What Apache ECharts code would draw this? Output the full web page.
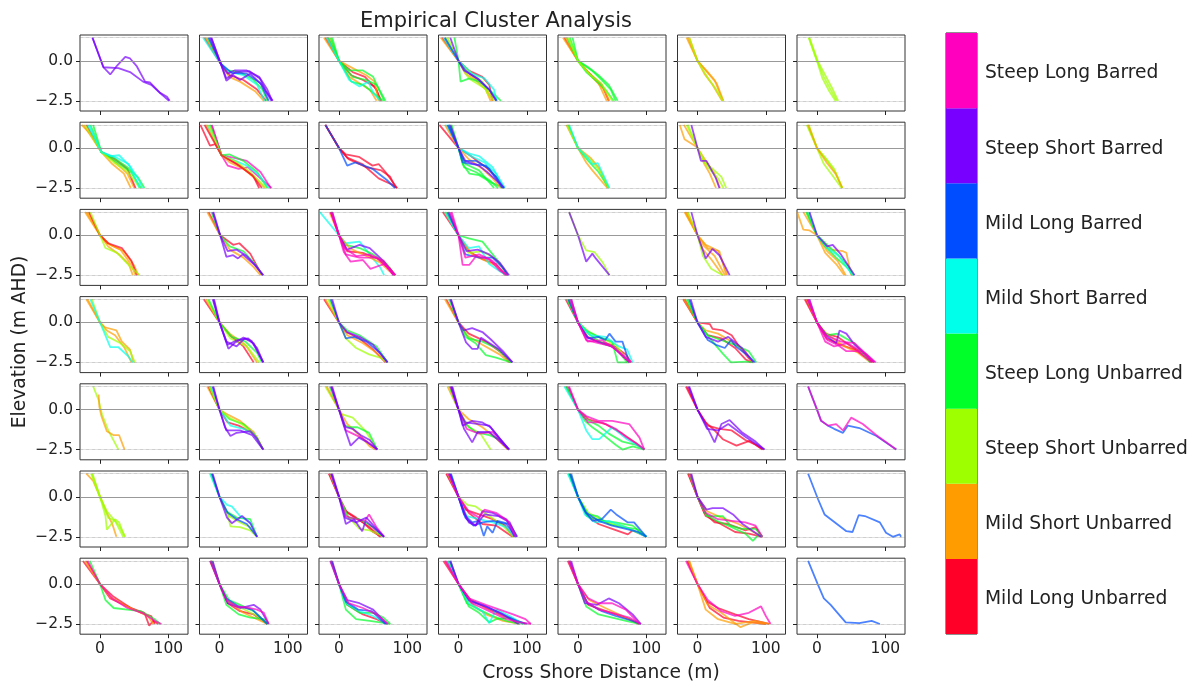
<!DOCTYPE html>
<html>
<head>
<meta charset="utf-8">
<script src="https://cdn.jsdelivr.net/npm/echarts@6/dist/echarts.min.js"></script>
<style>
  html, body { margin: 0; padding: 0; background: #fff; }
  #chart { width: 1198px; height: 686px; }
</style>
</head>
<body>
<div id="chart"></div>
<script>
  // cluster names, bottom of the colour bar first
  const categories = ['Mild Long Unbarred', 'Mild Short Unbarred', 'Steep Short Unbarred', 'Steep Long Unbarred',
    'Mild Short Barred', 'Mild Long Barred', 'Steep Short Barred', 'Steep Long Barred'];
  const clusterColors = ['#ff0029', '#ff9c00', '#9eff00', '#00ff28', '#00ffeb', '#004dff', '#7800ff', '#ff00bf'];
  const xTicks = [0, 100];
  const yTicks = [0, -2.5];
  const yTickLabels = ['0.0', '\u22122.5'];
  const refLevels = [1.45, 0, -2.5];
  const colorbarSpan = [1, 1, 1, 1, 1, 1, 1, 1];

  // each profile: [cluster index, [[cross shore distance, elevation], ...]]
  const r1c1 = [
    [6, [[-11,1.45],[5,-0.4],[15,-0.85],[24,-0.35],[37,0.25],[44,0.15],[54,-0.35],[66,-1.3],[73,-1.35],[88,-2.0],[98,-2.25],[102,-2.5]]],
    [6, [[-11,1.45],[5,-0.4],[27,-0.45],[44,-0.7],[63,-1.3],[75,-1.5],[90,-2.1],[101,-2.5]]]
  ];
  const r1c2 = [
    [0, [[-22,1.45],[2,-0.2],[15,-0.9],[35,-1.2],[55,-1.8],[68,-2.5]]],
    [1, [[-20,1.45],[2,-0.2],[14,-1.0],[30,-1.3],[52,-1.9],[65,-2.5]]],
    [3, [[-18,1.45],[3,-0.2],[12,-0.6],[30,-0.7],[50,-1.2],[63,-1.8],[70,-2.5]]],
    [4, [[-24,1.45],[2,-0.2],[15,-0.7],[35,-0.9],[55,-1.5],[66,-2.5]]],
    [5, [[-16,1.45],[2,-0.2],[18,-0.75],[40,-0.8],[60,-1.4],[72,-2.5]]],
    [6, [[-12,1.45],[2,-0.2],[10,-1.1],[17,-0.9],[24,-0.7],[44,-0.65],[59,-1.1],[68,-1.9],[78,-2.5]]],
    [6, [[-14,1.45],[2,-0.2],[12,-0.8],[22,-0.6],[40,-0.6],[58,-1.0],[70,-1.8],[77,-2.5]]],
    [6, [[-12,1.45],[3,-0.3],[10,-1.25],[20,-0.9],[30,-1.2],[45,-0.8],[62,-1.5],[76,-2.5]]]
  ];
  const r1c3 = [
    [0, [[-20,1.45],[0,0],[18,-0.9],[35,-1.2],[52,-1.6],[62,-2.5]]],
    [0, [[-17,1.45],[0,0],[20,-0.7],[38,-1.0],[55,-1.8],[60,-2.5]]],
    [1, [[-22,1.45],[0,0],[15,-1.0],[30,-1.4],[45,-1.8],[55,-2.5]]],
    [1, [[-14,1.45],[0,0],[22,-0.5],[40,-0.9],[52,-1.3],[58,-2.5]]],
    [3, [[-12,1.45],[0,0],[15,-0.6],[35,-0.6],[50,-1.0],[66,-2.5]]],
    [3, [[-16,1.45],[0,0],[20,-1.0],[40,-1.2],[55,-1.5],[68,-2.5]]],
    [3, [[-10,1.45],[0,0],[18,-1.3],[35,-1.5],[50,-2.0],[64,-2.5]]],
    [4, [[-18,1.45],[0,0],[15,-1.2],[30,-1.6],[43,-1.3],[50,-2.0],[60,-2.5]]]
  ];
  const r1c4 = [
    [0, [[-24,1.45],[0,0],[15,-0.6],[35,-1.0],[45,-1.5],[50,-2.5]]],
    [1, [[-26,1.45],[0,0],[10,-0.8],[25,-1.2],[40,-1.8],[47,-2.5]]],
    [1, [[-20,1.45],[0,0],[18,-0.9],[38,-1.5],[50,-2.5]]],
    [2, [[-18,1.45],[0,0],[15,-1.1],[30,-1.5],[45,-1.9],[55,-2.5]]],
    [2, [[-16,1.45],[0,0],[20,-0.8],[35,-1.3],[42,-2.0],[52,-2.5]]],
    [3, [[-6,1.45],[0,0],[3,-1.3],[16,-1.1],[30,-1.3],[45,-1.8],[62,-2.5]]],
    [4, [[-22,1.45],[0,0],[20,-0.8],[38,-1.1],[52,-1.8],[56,-2.5]]],
    [5, [[-20,1.45],[0,0],[10,-0.6],[30,-1.2],[45,-1.8],[56,-2.5]]],
    [6, [[-12,1.45],[0,0],[8,-0.6],[28,-1.1],[45,-1.8],[55,-2.5]]]
  ];
  const r1c5 = [
    [0, [[-20,1.45],[0,0],[15,-0.7],[35,-1.5],[45,-2.5]]],
    [1, [[-22,1.45],[0,0],[12,-0.6],[30,-1.4],[42,-2.5]]],
    [1, [[-18,1.45],[0,0],[18,-0.9],[38,-1.8],[46,-2.5]]],
    [3, [[-12,1.45],[0,0],[15,-0.4],[30,-0.9],[45,-1.5],[58,-2.5]]],
    [3, [[-8,1.45],[0,0],[20,-0.6],[35,-1.2],[48,-1.8],[55,-2.5]]],
    [3, [[-16,1.45],[0,0],[12,-0.7],[28,-1.3],[40,-1.8],[52,-2.5]]],
    [2, [[-14,1.45],[0,0],[16,-0.8],[34,-1.4],[50,-2.5]]]
  ];
  const r1c6 = [
    [1, [[-16,1.45],[0,0],[15,-0.7],[25,-1.2],[37,-2.5]]],
    [1, [[-14,1.45],[0,0],[10,-0.8],[22,-1.5],[36,-2.5]]],
    [1, [[-12,1.45],[0,0],[12,-0.6],[28,-1.4],[38,-2.5]]],
    [2, [[-12,1.45],[0,0],[14,-1.0],[26,-1.7],[37,-2.5]]]
  ];
  const r1c7 = [
    [2, [[-12,1.45],[0,0],[10,-1.0],[20,-1.8],[29,-2.5]]],
    [2, [[-11,1.45],[1,0],[12,-0.9],[22,-1.7],[31,-2.5]]],
    [2, [[-12,1.45],[0,0],[8,-1.1],[18,-1.9],[27,-2.5]]]
  ];

  const r2c1 = [
    [1, [[-27,1.45],[-12,0.8],[2,-0.25],[20,-0.8],[40,-1.6],[50,-2.5]]],
    [1, [[-24,1.45],[2,-0.25],[18,-1.0],[35,-1.6],[45,-2.5]]],
    [0, [[-20,1.45],[2,-0.25],[22,-0.7],[40,-1.3],[52,-2.5]]],
    [3, [[-14,1.45],[2,-0.25],[20,-0.6],[40,-1.2],[55,-1.8],[65,-2.5]]],
    [3, [[-10,1.45],[2,-0.25],[25,-0.9],[45,-1.5],[60,-2.5]]],
    [4, [[-18,1.45],[2,-0.25],[15,-0.5],[28,-0.45],[45,-1.2],[57,-2.0],[62,-2.5]]],
    [2, [[-22,1.45],[2,-0.25],[20,-0.9],[38,-1.4],[50,-2.0],[58,-2.5]]],
    [4, [[-16,1.45],[2,-0.25],[24,-0.6],[42,-1.0],[58,-2.5]]]
  ];
  const r2c2 = [
    [0, [[-28,1.45],[-14,0.15],[-6,0.25],[3,-0.45],[30,-1.1],[50,-1.8],[58,-2.5]]],
    [7, [[-11,1.45],[3,-0.45],[12,-1.1],[28,-1.3],[42,-1.2],[60,-1.9],[76,-2.5]]],
    [7, [[-12,1.45],[3,-0.45],[20,-0.6],[40,-0.8],[60,-1.5],[75,-2.5]]],
    [3, [[-14,1.45],[3,-0.45],[15,-0.4],[35,-0.8],[55,-1.5],[70,-2.5]]],
    [4, [[-18,1.45],[3,-0.45],[18,-0.7],[40,-1.1],[58,-1.7],[72,-2.5]]],
    [1, [[-20,1.45],[3,-0.45],[15,-0.9],[35,-1.3],[55,-2.0],[66,-2.5]]],
    [2, [[-16,1.45],[3,-0.45],[22,-0.8],[45,-1.5],[68,-2.5]]],
    [0, [[-22,1.45],[3,-0.45],[25,-1.0],[48,-1.7],[62,-2.5]]]
  ];
  const r2c3 = [
    [0, [[-20,1.45],[0,0],[10,-0.4],[29,-0.55],[49,-1.1],[58,-1.0],[68,-1.5],[85,-2.5]]],
    [0, [[-20,1.45],[0,0],[12,-0.6],[34,-1.0],[58,-1.9],[78,-2.3],[85,-2.5]]],
    [0, [[-20,1.45],[0,0],[14,-0.7],[40,-1.2],[62,-1.4],[75,-1.8],[83,-2.5]]],
    [5, [[-20,1.45],[0,0],[12,-1.1],[24,-0.9],[49,-1.3],[70,-2.0],[82,-2.5]]]
  ];
  const r2c4 = [
    [0, [[-28,1.45],[0,0],[18,-0.5],[40,-1.2],[55,-1.8],[65,-2.5]]],
    [3, [[-12,1.45],[0,0],[6,-1.0],[16,-1.6],[30,-1.7],[50,-2.2],[67,-2.5]]],
    [3, [[-14,1.45],[0,0],[8,-1.2],[25,-1.5],[45,-2.0],[58,-2.5]]],
    [3, [[-10,1.45],[0,0],[10,-1.0],[30,-1.4],[52,-2.5]]],
    [4, [[-16,1.45],[0,0],[16,-0.35],[30,-0.5],[50,-1.2],[66,-2.5]]],
    [4, [[-18,1.45],[0,0],[18,-0.5],[38,-0.9],[55,-1.6],[68,-2.5]]],
    [1, [[-20,1.45],[0,0],[15,-0.7],[35,-1.3],[50,-1.9],[62,-2.5]]],
    [5, [[-14,1.45],[0,0],[6,-0.9],[20,-1.0],[40,-1.1],[55,-1.8],[66,-2.5]]],
    [5, [[-16,1.45],[0,0],[8,-0.8],[25,-0.8],[45,-1.3],[64,-2.5]]],
    [6, [[-12,1.45],[0,0],[10,-0.8],[30,-1.1],[42,-1.5],[60,-2.2],[67,-2.5]]]
  ];
  const r2c5 = [
    [1, [[-17,1.45],[0,0],[12,-0.9],[21,-1.4],[43,-2.5]]],
    [1, [[-15,1.45],[0,0],[18,-0.6],[30,-1.2],[44,-2.5]]],
    [3, [[-14,1.45],[0,0],[15,-0.8],[30,-1.5],[45,-2.5]]],
    [2, [[-16,1.45],[0,0],[20,-0.8],[35,-1.6],[45,-2.5]]],
    [4, [[-13,1.45],[0,0],[14,-0.6],[21,-1.0],[29,-0.95],[46,-2.5]]]
  ];
  const r2c6 = [
    [1, [[-26,1.45],[-19,0.55],[-4,0.15],[0,0],[10,-1.0],[18,-1.6],[27,-2.5]]],
    [1, [[-20,1.45],[0,0],[12,-0.8],[25,-1.6],[33,-2.5]]],
    [2, [[-14,1.45],[0,0],[10,-0.9],[22,-1.3],[35,-1.8],[42,-2.5]]],
    [2, [[-16,1.45],[0,0],[15,-1.2],[30,-1.9],[38,-2.5]]],
    [6, [[-9,1.45],[0,0],[5,-0.8],[13,-0.8],[27,-1.9],[32,-2.5]]]
  ];
  const r2c7 = [
    [2, [[-14,1.45],[0,0],[15,-0.8],[28,-1.6],[37,-2.5]]],
    [2, [[-12,1.45],[0,0],[12,-0.6],[25,-1.3],[37,-2.5]]],
    [2, [[-15,1.45],[0,0],[10,-1.0],[24,-1.8],[36,-2.5]]],
    [1, [[-13,1.45],[0,0],[14,-0.9],[27,-1.6],[37,-2.5]]]
  ];

  const r3c1 = [
    [1, [[-22,1.45],[0,0],[10,-0.5],[30,-0.9],[45,-1.8],[52,-2.5]]],
    [1, [[-20,1.45],[0,0],[12,-0.7],[28,-1.2],[42,-1.8],[48,-2.5]]],
    [1, [[-18,1.45],[0,0],[15,-0.6],[35,-1.0],[50,-1.9],[56,-2.5]]],
    [0, [[-16,1.45],[0,0],[12,-0.5],[32,-0.8],[46,-1.6],[54,-2.5]]],
    [2, [[-14,1.45],[0,0],[8,-0.8],[25,-1.1],[45,-2.0],[58,-2.5]]]
  ];
  const r3c2 = [
    [0, [[-16,1.45],[1,0],[20,-0.6],[29,-0.5],[45,-1.15],[62,-2.5]]],
    [1, [[-18,1.45],[1,0],[15,-0.9],[35,-1.4],[50,-2.0],[60,-2.5]]],
    [3, [[-12,1.45],[1,0],[15,-0.7],[35,-1.0],[52,-1.8],[63,-2.5]]],
    [6, [[-9,1.45],[1,0],[10,-1.35],[20,-1.25],[27,-1.45],[34,-1.2],[50,-1.8],[64,-2.5]]],
    [6, [[-10,1.45],[1,0],[12,-1.0],[25,-0.9],[40,-1.3],[55,-2.0],[64,-2.5]]]
  ];
  const r3c3 = [
    [4, [[-28,1.45],[0,0],[10,-0.5],[30,-0.4],[45,-1.2],[60,-2.0],[66,-2.5]]],
    [3, [[-11,1.45],[0,0],[10,-0.6],[30,-0.8],[50,-1.2],[70,-1.8],[82,-2.5]]],
    [0, [[-12,1.45],[0,0],[12,-1.0],[35,-1.1],[58,-1.5],[75,-2.1],[82,-2.5]]],
    [1, [[-14,1.45],[0,0],[15,-0.8],[40,-1.3],[60,-1.7],[80,-2.5]]],
    [6, [[-10,1.45],[0,0],[12,-0.9],[30,-0.6],[45,-0.8],[65,-1.6],[80,-2.5]]],
    [7, [[-12,1.45],[0,0],[7,-1.05],[17,-1.65],[35,-1.55],[46,-2.1],[66,-1.8],[83,-2.5]]],
    [7, [[-10,1.45],[0,0],[8,-0.8],[25,-1.3],[45,-1.2],[65,-1.6],[82,-2.5]]],
    [7, [[-12,1.45],[0,0],[10,-1.2],[30,-1.4],[55,-1.4],[70,-2.0],[80,-2.5]]]
  ];
  const r3c4 = [
    [0, [[-23,1.45],[0,0],[15,-1.0],[35,-1.5],[55,-1.8],[68,-2.5]]],
    [1, [[-20,1.45],[0,0],[20,-1.2],[40,-1.6],[55,-1.9],[70,-2.5]]],
    [2, [[-15,1.45],[0,0],[14,-1.1],[35,-1.0],[55,-1.5],[72,-2.5]]],
    [3, [[-18,1.45],[0,0],[15,-0.2],[35,-0.4],[50,-1.2],[65,-2.0],[72,-2.5]]],
    [4, [[-20,1.45],[0,0],[15,-0.8],[30,-0.7],[45,-1.8],[62,-2.3],[70,-2.5]]],
    [5, [[-16,1.45],[0,0],[10,-1.2],[30,-1.4],[50,-1.4],[64,-2.0],[72,-2.5]]],
    [6, [[-14,1.45],[0,0],[12,-1.0],[28,-0.9],[45,-1.2],[60,-1.7],[74,-2.5]]],
    [7, [[-12,1.45],[0,0],[6,-1.85],[16,-1.85],[26,-1.3],[45,-1.5],[60,-2.2],[72,-2.5]]],
    [7, [[-10,1.45],[0,0],[10,-1.4],[30,-1.2],[50,-1.6],[70,-2.5]]]
  ];
  const r3c5 = [
    [2, [[-13,1.45],[0,0],[12,-0.95],[24,-1.05],[36,-1.7],[46,-2.5]]],
    [6, [[-13,1.45],[0,0],[12,-1.65],[21,-1.15],[26,-1.45],[46,-2.5]]]
  ];
  const r3c6 = [
    [1, [[-19,1.45],[0,0],[10,-0.7],[25,-1.3],[40,-2.5]]],
    [1, [[-17,1.45],[0,0],[15,-0.8],[30,-1.0],[35,-1.5],[44,-2.5]]],
    [1, [[-15,1.45],[0,0],[8,-0.9],[20,-1.5],[37,-2.5]]],
    [1, [[-18,1.45],[0,0],[12,-0.6],[32,-1.0],[42,-2.5]]],
    [2, [[-14,1.45],[0,0],[8,-1.3],[20,-2.1],[37,-2.5]]],
    [6, [[-9,1.45],[0,0],[12,-1.45],[22,-0.85],[32,-1.25],[47,-2.5]]]
  ];
  const r3c7 = [
    [1, [[-29,1.45],[-20,0.35],[-11,0.3],[0,0],[15,-1.0],[30,-1.6],[42,-2.5]]],
    [1, [[-20,1.45],[0,0],[20,-0.9],[38,-1.0],[43,-1.1],[50,-2.5]]],
    [1, [[-15,1.45],[0,0],[12,-1.1],[28,-1.8],[40,-2.5]]],
    [3, [[-14,1.45],[0,0],[15,-0.6],[30,-1.2],[45,-1.9],[54,-2.5]]],
    [3, [[-16,1.45],[0,0],[12,-0.7],[28,-1.4],[46,-2.1],[52,-2.5]]],
    [4, [[-12,1.45],[0,0],[15,-0.8],[32,-1.3],[52,-2.5]]],
    [6, [[-11,1.45],[0,0],[15,-0.7],[23,-0.6],[35,-1.2],[55,-2.5]]]
  ];

  const r4c1 = [
    [1, [[-20,1.45],[0,0],[7,-0.3],[24,-0.5],[32,-1.2],[44,-1.7],[49,-2.5]]],
    [1, [[-18,1.45],[0,0],[10,-0.5],[22,-0.8],[36,-1.6],[46,-2.5]]],
    [2, [[-12,1.45],[0,0],[12,-0.9],[30,-1.3],[44,-1.8],[51,-2.5]]],
    [4, [[-14,1.45],[0,0],[15,-1.55],[27,-1.55],[41,-2.1],[48,-2.5]]]
  ];
  const r4c2 = [
    [0, [[-23,1.45],[0,0],[15,-0.8],[35,-1.5],[50,-2.5]]],
    [1, [[-20,1.45],[0,0],[15,-0.7],[38,-1.4],[55,-2.5]]],
    [2, [[-18,1.45],[0,0],[16,-1.0],[40,-1.5],[58,-2.5]]],
    [3, [[-16,1.45],[0,0],[18,-0.9],[38,-1.2],[55,-1.9],[62,-2.5]]],
    [6, [[-9,1.45],[0,0],[13,-1.65],[23,-1.25],[35,-0.95],[47,-1.15],[57,-1.95],[64,-2.5]]],
    [6, [[-10,1.45],[0,0],[10,-1.2],[25,-1.5],[37,-1.0],[50,-1.3],[64,-2.5]]],
    [6, [[-8,1.45],[0,0],[12,-1.4],[26,-1.1],[42,-1.0],[55,-1.6],[64,-2.5]]]
  ];
  const r4c3 = [
    [0, [[-22,1.45],[0,0],[10,-0.6],[30,-1.0],[50,-1.7],[68,-2.5]]],
    [1, [[-20,1.45],[0,0],[12,-0.8],[35,-1.3],[55,-1.9],[70,-2.5]]],
    [3, [[-14,1.45],[0,0],[12,-0.5],[30,-0.8],[55,-1.5],[71,-2.5]]],
    [2, [[-16,1.45],[0,0],[10,-1.0],[25,-1.6],[44,-2.0],[60,-2.2],[71,-2.5]]],
    [5, [[-12,1.45],[0,0],[10,-1.0],[22,-0.9],[40,-1.2],[60,-1.9],[71,-2.5]]],
    [6, [[-10,1.45],[0,0],[12,-0.6],[30,-0.9],[50,-1.4],[71,-2.5]]]
  ];
  const r4c4 = [
    [0, [[-18,1.45],[0,0],[15,-0.7],[40,-1.2],[60,-1.8],[76,-2.5]]],
    [1, [[-20,1.45],[0,0],[12,-0.8],[35,-1.4],[60,-2.0],[74,-2.5]]],
    [3, [[-14,1.45],[0,0],[10,-0.9],[25,-1.3],[40,-2.05],[55,-2.2],[77,-2.5]]],
    [3, [[-12,1.45],[0,0],[15,-1.0],[35,-1.2],[55,-1.6],[78,-2.5]]],
    [6, [[-11,1.45],[0,0],[11,-1.25],[20,-1.65],[28,-1.65],[33,-0.95],[40,-1.15],[60,-1.7],[79,-2.5]]],
    [6, [[-12,1.45],[0,0],[8,-0.5],[20,-0.35],[35,-0.6],[47,-1.05],[65,-1.8],[79,-2.5]]]
  ];
  const r4c5 = [
    [0, [[-18,1.45],[0,0],[14,-0.9],[30,-1.2],[50,-1.4],[70,-2.0],[78,-2.5]]],
    [2, [[-15,1.45],[0,0],[16,-0.6],[35,-1.0],[55,-1.4],[74,-2.5]]],
    [3, [[-16,1.45],[0,0],[12,-0.5],[30,-0.9],[50,-1.2],[58,-2.5],[75,-2.5]]],
    [3, [[-14,1.45],[0,0],[15,-0.7],[35,-1.3],[55,-1.6],[72,-2.5]]],
    [4, [[-12,1.45],[0,0],[18,-0.8],[40,-0.9],[60,-1.5],[72,-1.7],[80,-2.5]]],
    [5, [[-14,1.45],[0,0],[15,-1.0],[30,-0.9],[40,-1.1],[46,-0.7],[55,-1.2],[65,-1.2],[75,-2.5]]],
    [6, [[-10,1.45],[0,0],[12,-0.9],[28,-1.2],[50,-1.5],[76,-2.5]]],
    [7, [[-12,1.45],[0,0],[12,-1.1],[30,-1.3],[50,-1.5],[65,-2.0],[78,-2.5]]],
    [7, [[-10,1.45],[0,0],[14,-1.2],[35,-1.1],[55,-1.7],[75,-2.5]]]
  ];
  const r4c6 = [
    [0, [[-21,1.45],[0,0],[18,-0.1],[22,-0.4],[37,-0.5],[50,-0.8],[61,-1.5],[80,-2.5]]],
    [0, [[-19,1.45],[0,0],[15,-0.8],[35,-1.0],[55,-1.6],[70,-2.3],[78,-2.5]]],
    [1, [[-20,1.45],[0,0],[12,-0.5],[30,-0.7],[50,-1.2],[70,-1.8],[80,-2.5]]],
    [3, [[-16,1.45],[0,0],[18,-1.0],[37,-1.95],[49,-2.5],[71,-2.45],[82,-2.5]]],
    [3, [[-14,1.45],[0,0],[15,-0.8],[35,-1.1],[55,-1.4],[75,-1.8],[86,-2.5]]],
    [5, [[-12,1.45],[0,0],[15,-1.1],[27,-1.4],[40,-1.6],[49,-1.1],[56,-1.5],[72,-2.0],[84,-2.5]]],
    [6, [[-10,1.45],[0,0],[12,-0.9],[30,-1.2],[45,-0.9],[65,-1.6],[82,-2.5]]]
  ];
  const r4c7 = [
    [0, [[-18,1.45],[0,0],[12,-0.7],[30,-0.9],[50,-1.5],[70,-2.0],[80,-2.5]]],
    [0, [[-16,1.45],[0,0],[14,-1.0],[35,-1.4],[55,-1.7],[82,-2.5]]],
    [1, [[-15,1.45],[0,0],[16,-0.8],[40,-1.5],[60,-1.9],[78,-2.5]]],
    [3, [[-14,1.45],[0,0],[15,-0.8],[30,-0.7],[55,-1.3],[78,-2.5]]],
    [6, [[-11,1.45],[0,0],[15,-0.9],[28,-1.3],[33,-0.5],[43,-0.7],[55,-1.4],[72,-2.0],[84,-2.5]]],
    [7, [[-12,1.45],[0,0],[15,-1.1],[30,-1.4],[43,-1.8],[60,-1.8],[80,-2.5]]],
    [7, [[-13,1.45],[0,0],[14,-0.8],[35,-1.2],[55,-1.3],[70,-1.9],[86,-2.5]]],
    [7, [[-14,1.45],[0,0],[12,-1.2],[25,-1.5],[45,-1.3],[65,-1.8],[84,-2.5]]]
  ];

  const r5c1 = [
    [2, [[-10,1.45],[-2,0.6],[3,-0.3],[12,-1.3],[27,-2.5]]],
    [1, [[-2,0.95],[-1,0.2],[2,-0.4],[10,-1.35],[20,-1.6],[28,-1.6],[36,-2.5]]]
  ];
  const r5c2 = [
    [1, [[-18,1.45],[0,0],[12,-0.3],[30,-0.7],[50,-1.4],[64,-2.5]]],
    [0, [[-16,1.45],[0,0],[12,-0.8],[28,-1.0],[50,-1.5],[64,-2.5]]],
    [3, [[-14,1.45],[0,0],[15,-0.6],[35,-0.9],[52,-1.6],[64,-2.5]]],
    [4, [[-12,1.45],[0,0],[16,-1.0],[35,-1.2],[50,-1.5],[64,-2.5]]],
    [2, [[-15,1.45],[0,0],[14,-0.5],[32,-0.9],[55,-1.7],[64,-2.5]]],
    [6, [[-9,1.45],[0,0],[8,-1.1],[16,-1.65],[25,-1.45],[45,-1.35],[55,-1.8],[64,-2.5]]],
    [6, [[-10,1.45],[0,0],[10,-1.3],[30,-1.3],[48,-1.6],[64,-2.5]]]
  ];
  const r5c3 = [
    [2, [[-20,1.45],[0,0],[5,-0.3],[20,-0.5],[39,-1.35],[56,-2.5]]],
    [1, [[-18,1.45],[0,0],[12,-0.9],[30,-1.6],[45,-2.3],[54,-2.5]]],
    [3, [[-14,1.45],[0,0],[8,-1.0],[15,-1.1],[27,-1.1],[44,-1.45],[56,-2.5]]],
    [7, [[-11,1.45],[0,0],[10,-1.3],[20,-1.5],[35,-1.8],[56,-2.5]]],
    [6, [[-10,1.45],[0,0],[7,-1.0],[17,-2.25],[29,-1.75],[40,-2.0],[56,-2.5]]],
    [6, [[-12,1.45],[0,0],[10,-1.1],[20,-1.2],[32,-1.6],[45,-1.9],[56,-2.5]]]
  ];
  const r5c4 = [
    [1, [[-16,1.45],[0,0],[15,-0.6],[35,-1.1],[55,-1.8],[72,-2.5]]],
    [2, [[-14,1.45],[0,0],[15,-1.1],[32,-1.5],[47,-2.5]]],
    [3, [[-13,1.45],[0,0],[10,-0.9],[25,-1.4],[45,-1.6],[60,-1.85],[74,-2.5]]],
    [7, [[-12,1.45],[0,0],[12,-1.2],[30,-1.5],[50,-1.4],[74,-2.5]]],
    [6, [[-9,1.45],[0,0],[6,-1.0],[20,-0.7],[35,-0.8],[47,-1.1],[74,-2.5]]],
    [6, [[-10,1.45],[0,0],[8,-1.2],[20,-2.05],[28,-1.4],[45,-1.4],[74,-2.5]]],
    [6, [[-11,1.45],[0,0],[10,-0.8],[30,-0.9],[45,-1.0],[60,-1.8],[74,-2.5]]]
  ];
  const r5c5 = [
    [0, [[-17,1.45],[0,0],[15,-0.6],[40,-0.9],[65,-1.5],[85,-2.1],[97,-2.5]]],
    [3, [[-18,1.45],[0,0],[10,-0.7],[21,-1.1],[36,-1.55],[55,-2.2],[65,-2.5],[80,-2.3],[97,-2.5]]],
    [3, [[-16,1.45],[0,0],[12,-0.6],[30,-1.0],[45,-1.5],[65,-2.0],[85,-2.2],[97,-2.5]]],
    [4, [[-20,1.45],[0,0],[12,-1.3],[21,-1.85],[31,-1.85],[50,-1.1],[70,-1.8],[97,-2.5]]],
    [7, [[-13,1.45],[0,0],[12,-0.4],[30,-0.7],[50,-0.7],[75,-0.9],[90,-1.75],[97,-2.5]]],
    [7, [[-14,1.45],[0,0],[15,-0.8],[35,-0.8],[55,-1.2],[70,-1.7],[85,-2.1],[97,-2.5]]]
  ];
  const r5c6 = [
    [0, [[-17,1.45],[0,0],[12,-0.8],[25,-1.3],[37,-1.85],[57,-2.25],[76,-1.95],[96,-2.5]]],
    [0, [[-15,1.45],[0,0],[15,-1.0],[32,-1.2],[50,-1.3],[70,-1.9],[85,-2.2],[95,-2.5]]],
    [6, [[-12,1.45],[0,0],[13,-1.0],[25,-2.05],[35,-0.9],[47,-0.65],[66,-1.45],[85,-2.0],[98,-2.5]]],
    [6, [[-13,1.45],[0,0],[14,-1.2],[30,-1.3],[45,-0.9],[70,-1.7],[98,-2.5]]]
  ];
  const r5c7 = [
    [5, [[-13,1.45],[0,0],[6,-0.7],[16,-1.0],[25,-1.2],[38,-1.45],[45,-1.0],[62,-1.15],[87,-1.65],[116,-2.5]]],
    [7, [[-13,1.45],[0,0],[6,-0.7],[16,-1.0],[28,-0.9],[38,-1.3],[50,-0.5],[67,-0.9],[87,-1.6],[116,-2.5]]]
  ];

  const r6c1 = [
    [1, [[-20,1.45],[-10,1.0],[0,0],[10,-1.0],[18,-1.7],[24,-2.5]]],
    [2, [[-12,1.45],[0,0],[10,-0.9],[20,-1.4],[28,-1.8],[37,-2.5]]],
    [2, [[-13,1.45],[0,0],[8,-1.2],[10,-2.05],[22,-1.4],[28,-1.6],[36,-2.5]]],
    [2, [[-11,1.45],[0,0],[12,-1.3],[22,-1.5],[34,-2.5]]]
  ];
  const r6c2 = [
    [2, [[-13,1.45],[0,0],[12,-1.1],[16,-1.85],[30,-1.9],[45,-2.1],[55,-2.5]]],
    [2, [[-12,1.45],[0,0],[14,-1.2],[30,-1.6],[45,-1.9],[55,-2.5]]],
    [3, [[-12,1.45],[0,0],[10,-0.9],[25,-1.3],[45,-1.4],[55,-2.5]]],
    [4, [[-14,1.45],[0,0],[11,-0.5],[18,-0.6],[30,-1.2],[45,-1.6],[55,-2.5]]],
    [5, [[-11,1.45],[0,0],[12,-1.0],[25,-1.4],[40,-1.7],[55,-2.5]]],
    [6, [[-10,1.45],[0,0],[11,-1.3],[18,-1.65],[33,-1.2],[45,-1.65],[55,-2.5]]]
  ];
  const r6c3 = [
    [0, [[-15,1.45],[0,0],[7,-0.8],[25,-1.3],[45,-1.9],[60,-2.5]]],
    [0, [[-14,1.45],[0,0],[12,-1.0],[35,-1.6],[50,-2.2],[62,-2.5]]],
    [2, [[-13,1.45],[0,0],[10,-1.1],[30,-2.0],[45,-2.1],[66,-2.5]]],
    [3, [[-12,1.45],[0,0],[14,-1.3],[30,-1.4],[50,-1.9],[64,-2.5]]],
    [7, [[-12,1.45],[0,0],[10,-1.2],[25,-1.4],[38,-1.5],[44,-1.1],[55,-1.9],[66,-2.5]]],
    [6, [[-10,1.45],[0,0],[10,-1.7],[22,-1.4],[34,-2.15],[39,-1.5],[50,-1.9],[66,-2.5]]],
    [6, [[-11,1.45],[0,0],[9,-1.3],[25,-1.6],[40,-1.3],[55,-2.0],[66,-2.5]]]
  ];
  const r6c4 = [
    [0, [[-18,1.45],[0,0],[10,-0.8],[30,-1.1],[50,-1.4],[68,-1.8],[80,-2.5]]],
    [0, [[-17,1.45],[0,0],[15,-1.0],[35,-1.7],[55,-1.8],[79,-2.5]]],
    [2, [[-16,1.45],[0,0],[13,-0.5],[25,-0.6],[45,-1.2],[65,-1.8],[80,-2.5]]],
    [4, [[-12,1.45],[0,0],[12,-1.2],[30,-1.4],[50,-1.6],[70,-1.9],[82,-2.5]]],
    [5, [[-11,1.45],[0,0],[8,-1.1],[20,-1.6],[30,-1.5],[37,-2.45],[42,-1.85],[50,-2.25],[57,-1.5],[75,-1.7],[86,-2.5]]],
    [5, [[-12,1.45],[0,0],[10,-1.3],[22,-1.8],[35,-1.6],[50,-1.5],[70,-1.7],[84,-2.5]]],
    [6, [[-13,1.45],[0,0],[8,-0.9],[15,-1.6],[25,-1.8],[35,-0.9],[50,-1.0],[70,-1.4],[82,-2.5]]],
    [6, [[-14,1.45],[0,0],[12,-1.4],[25,-1.8],[38,-1.1],[58,-1.2],[75,-1.6],[85,-2.5]]],
    [7, [[-15,1.45],[0,0],[15,-0.9],[30,-1.3],[38,-0.8],[55,-1.0],[72,-1.5],[84,-2.5]]]
  ];
  const r6c5 = [
    [0, [[-12,1.45],[0,0],[12,-1.1],[30,-1.7],[50,-2.0],[73,-2.35],[80,-2.1],[100,-2.5]]],
    [2, [[-11,1.45],[0,0],[15,-1.0],[40,-1.6],[65,-1.8],[100,-2.5]]],
    [3, [[-13,1.45],[0,0],[15,-1.1],[28,-1.2],[45,-1.7],[65,-1.9],[85,-2.0],[100,-2.5]]],
    [3, [[-14,1.45],[0,0],[13,-1.2],[35,-1.5],[55,-1.6],[80,-1.8],[100,-2.5]]],
    [4, [[-15,1.45],[0,0],[10,-1.1],[25,-1.6],[45,-1.5],[70,-1.9],[100,-2.5]]],
    [5, [[-10,1.45],[0,0],[10,-0.9],[21,-1.5],[35,-1.4],[48,-0.8],[56,-1.1],[73,-1.6],[82,-1.6],[100,-2.5]]],
    [5, [[-12,1.45],[0,0],[12,-1.0],[30,-1.5],[50,-1.8],[70,-2.0],[88,-2.2],[100,-2.5]]]
  ];
  const r6c6 = [
    [0, [[-14,1.45],[0,0],[10,-1.0],[25,-1.6],[45,-1.7],[70,-2.1],[85,-1.9],[94,-2.5]]],
    [0, [[-13,1.45],[0,0],[12,-1.2],[30,-1.6],[55,-2.2],[75,-2.3],[95,-2.5]]],
    [1, [[-12,1.45],[0,0],[14,-0.9],[35,-1.3],[60,-1.7],[95,-2.5]]],
    [3, [[-12,1.45],[0,0],[12,-1.1],[28,-1.5],[50,-1.9],[70,-2.3],[81,-2.75],[90,-2.35],[95,-2.5]]],
    [3, [[-10,1.45],[0,0],[14,-1.2],[37,-1.2],[48,-1.8],[65,-2.0],[85,-2.0],[95,-2.5]]],
    [7, [[-11,1.45],[0,0],[12,-1.0],[30,-1.4],[50,-1.5],[70,-1.6],[85,-1.8],[95,-2.5]]],
    [6, [[-9,1.45],[0,0],[13,-0.8],[22,-0.7],[37,-0.7],[52,-1.1],[66,-1.7],[93,-2.5]]]
  ];
  const r6c7 = [
    [5, [[-13,1.45],[1.5,-0.15],[11,-1.1],[43,-2.15],[52,-2.2],[61,-1.15],[70,-1.2],[92,-1.6],[101,-2.25],[111,-2.5],[121,-2.35],[123,-2.5]]]
  ];

  const r7c1 = [
    [0, [[-25,1.45],[0,0],[15,-0.9],[40,-1.4],[60,-1.8],[75,-2.0],[80,-2.5]]],
    [0, [[-20,1.45],[0,0],[20,-0.8],[45,-1.5],[65,-1.8],[72,-2.6],[78,-2.3],[85,-2.5]]],
    [1, [[-22,1.45],[0,0],[15,-0.8],[35,-1.3],[55,-1.7],[70,-2.0],[78,-2.5]]],
    [3, [[-15,1.45],[0,0],[8,-1.0],[20,-1.5],[40,-1.6],[60,-1.7],[80,-2.2],[88,-2.5]]],
    [7, [[-18,1.45],[0,0],[18,-0.9],[40,-1.5],[62,-1.8],[80,-2.3],[90,-2.5]]]
  ];
  const r7c2 = [
    [0, [[-14,1.45],[0,0],[12,-1.2],[30,-1.7],[50,-1.9],[70,-2.5]]],
    [1, [[-11,1.45],[0,0],[13,-1.1],[35,-1.8],[55,-2.2],[70,-2.5]]],
    [2, [[-12,1.45],[0,0],[12,-1.1],[32,-1.5],[55,-2.0],[70,-2.5]]],
    [3, [[-12,1.45],[0,0],[10,-1.3],[28,-1.9],[45,-2.1],[65,-2.2],[72,-2.5]]],
    [3, [[-11,1.45],[0,0],[14,-1.0],[30,-1.3],[50,-1.7],[70,-2.5]]],
    [5, [[-13,1.45],[0,0],[10,-0.9],[28,-1.4],[48,-1.6],[70,-2.5]]],
    [6, [[-10,1.45],[0,0],[12,-1.2],[30,-1.5],[50,-1.3],[60,-1.6],[72,-2.5]]],
    [7, [[-13,1.45],[0,0],[10,-1.0],[25,-1.4],[45,-1.5],[55,-1.6],[65,-1.8],[72,-2.5]]]
  ];
  const r7c3 = [
    [0, [[-11,1.45],[0,0],[12,-1.3],[35,-1.9],[55,-2.2],[70,-2.5]]],
    [3, [[-12,1.45],[0,0],[10,-1.6],[25,-2.2],[45,-2.3],[60,-2.4],[75,-2.5]]],
    [3, [[-11,1.45],[0,0],[12,-1.3],[30,-1.8],[50,-1.8],[65,-2.1],[75,-2.5]]],
    [4, [[-12,1.45],[0,0],[10,-1.2],[30,-1.7],[50,-2.0],[70,-2.5]]],
    [5, [[-12,1.45],[0,0],[10,-1.1],[28,-1.6],[48,-1.7],[68,-2.5]]],
    [6, [[-10,1.45],[0,0],[12,-1.0],[30,-1.2],[50,-1.6],[70,-2.5]]],
    [7, [[-13,1.45],[0,0],[14,-1.2],[35,-1.5],[55,-1.9],[72,-2.5]]]
  ];
  const r7c4 = [
    [0, [[-22,1.45],[0,0],[18,-1.0],[40,-1.5],[65,-2.0],[85,-2.3],[98,-2.5]]],
    [1, [[-20,1.45],[0,0],[15,-1.1],[40,-1.9],[65,-2.3],[90,-2.5]]],
    [3, [[-15,1.45],[0,0],[15,-1.4],[30,-1.8],[45,-2.4],[55,-2.2],[75,-2.1],[95,-2.5]]],
    [3, [[-14,1.45],[0,0],[12,-1.2],[30,-1.6],[50,-2.0],[70,-2.3],[90,-2.5]]],
    [4, [[-16,1.45],[0,0],[15,-1.2],[35,-1.7],[45,-2.45],[55,-1.6],[75,-2.0],[95,-2.5]]],
    [5, [[-12,1.45],[0,0],[15,-1.0],[35,-1.3],[60,-1.8],[85,-2.3],[100,-2.5]]],
    [6, [[-12,1.45],[0,0],[18,-1.1],[40,-1.4],[65,-1.9],[88,-2.5]]],
    [7, [[-20,1.45],[0,0],[15,-0.9],[40,-1.3],[60,-1.6],[80,-1.9],[98,-2.2],[106,-2.5]]],
    [7, [[-18,1.45],[0,0],[20,-1.2],[45,-1.7],[70,-2.2],[90,-2.4],[106,-2.5]]]
  ];
  const r7c5 = [
    [0, [[-15,1.45],[0,0],[15,-1.3],[35,-1.6],[55,-1.9],[75,-2.2],[90,-2.5]]],
    [1, [[-14,1.45],[0,0],[16,-1.0],[40,-1.5],[65,-2.0],[88,-2.5]]],
    [3, [[-13,1.45],[0,0],[12,-1.4],[30,-1.9],[50,-2.1],[70,-2.3],[90,-2.5]]],
    [5, [[-12,1.45],[0,0],[14,-1.2],[35,-1.7],[55,-2.0],[80,-2.3],[92,-2.5]]],
    [6, [[-10,1.45],[0,0],[10,-1.2],[28,-1.3],[45,-0.9],[60,-1.2],[80,-1.9],[92,-2.5]]],
    [7, [[-14,1.45],[0,0],[15,-0.9],[30,-1.2],[50,-1.2],[70,-1.6],[90,-2.5]]],
    [7, [[-12,1.45],[0,0],[12,-1.1],[30,-1.6],[50,-1.8],[75,-2.1],[92,-2.5]]]
  ];
  const r7c6 = [
    [0, [[-15,1.45],[0,0],[18,-1.5],[38,-2.1],[60,-2.3],[80,-2.4],[100,-2.5]]],
    [0, [[-14,1.45],[0,0],[14,-1.1],[30,-1.5],[55,-1.9],[75,-2.2],[105,-2.5]]],
    [1, [[-13,1.45],[0,0],[15,-1.3],[35,-1.8],[50,-2.3],[63,-2.7],[80,-2.4],[100,-2.5]]],
    [1, [[-12,1.45],[0,0],[12,-1.6],[30,-2.2],[55,-2.5],[85,-2.3],[105,-2.5]]],
    [7, [[-17,1.45],[0,0],[15,-1.0],[35,-1.7],[55,-2.0],[75,-1.8],[93,-1.4],[100,-2.0],[107,-2.5]]]
  ];
  const r7c7 = [
    [5, [[-13,1.45],[1,0],[10,-0.9],[20,-1.3],[30,-1.8],[42,-2.4],[62,-2.45],[80,-2.3],[92,-2.5]]]
  ];

  const panels = [
    [r1c1, r1c2, r1c3, r1c4, r1c5, r1c6, r1c7],
    [r2c1, r2c2, r2c3, r2c4, r2c5, r2c6, r2c7],
    [r3c1, r3c2, r3c3, r3c4, r3c5, r3c6, r3c7],
    [r4c1, r4c2, r4c3, r4c4, r4c5, r4c6, r4c7],
    [r5c1, r5c2, r5c3, r5c4, r5c5, r5c6, r5c7],
    [r6c1, r6c2, r6c3, r6c4, r6c5, r6c6, r6c7],
    [r7c1, r7c2, r7c3, r7c4, r7c5, r7c6, r7c7]
  ];

  const font = 'DejaVu Sans';
  const myChart = echarts.init(document.getElementById('chart'));

  let grids = [], xAxes = [], yAxes = [], series = [];

  panels.forEach((row, r) => {
    row.forEach((profiles, c) => {
      const i = r * 7 + c;
      grids.push({
        left: 80 + c * 119.5, top: 35 + r * 87.2, width: 108, height: 76,
        show: true, borderColor: '#333', borderWidth: 1, backgroundColor: '#fff'
      });
      xAxes.push({
        type: 'value', gridIndex: i, min: -29.3, max: 128.8, position: 'bottom',
        axisLine: { show: false, onZero: false },
        splitLine: { show: false },
        axisTick: { show: true, inside: false, customValues: xTicks, length: 4, lineStyle: { color: '#222', width: 1 } },
        axisLabel: { show: r === 6, customValues: xTicks, fontSize: 15.5, color: '#222', margin: 7, fontFamily: font }
      });
      yAxes.push({
        type: 'value', gridIndex: i, min: -3.14, max: 1.62, position: 'left',
        axisLine: { show: false, onZero: false },
        splitLine: { show: false },
        axisTick: { show: true, inside: false, customValues: yTicks, length: 4, lineStyle: { color: '#222', width: 1 } },
        axisLabel: {
          show: c === 0, customValues: yTicks, fontSize: 15.5, color: '#222', margin: 7, fontFamily: font,
          formatter: (v) => yTickLabels[yTicks.indexOf(v)]
        }
      });
      profiles.forEach(([k, pts], j) => {
        let s = {
          type: 'line', xAxisIndex: i, yAxisIndex: i, data: pts,
          showSymbol: false, silent: true,
          lineStyle: { color: clusterColors[k], width: 1.8, opacity: 0.7 }
        };
        if (j === 0) {
          s.markLine = {
            silent: true, symbol: 'none', label: { show: false },
            data: refLevels.map((v) => ({
              yAxis: v,
              lineStyle: v === 0
                ? { color: '#999', type: 'solid', width: 1 }
                : { color: '#777', type: 'dotted', width: 0.6 }
            }))
          };
        }
        series.push(s);
      });
    });
  });

  // colour bar
  const cb = grids.length;
  grids.push({ left: 946, top: 33, width: 31, height: 601, show: true, borderColor: '#222', borderWidth: 1 });
  xAxes.push({ type: 'value', gridIndex: cb, min: 0, max: 1, show: false });
  yAxes.push({
    type: 'category', gridIndex: cb, data: categories, position: 'right',
    axisLine: { show: false },
    axisTick: { show: true, alignWithLabel: true, length: 3.5, lineStyle: { color: '#333' } },
    axisLabel: { fontSize: 18.7, color: '#222', margin: 8, fontFamily: font, verticalAlign: 'top', lineHeight: 6 }
  });
  series.push({
    type: 'bar', xAxisIndex: cb, yAxisIndex: cb, silent: true,
    barWidth: '100%', barCategoryGap: '0%',
    data: colorbarSpan.map((v, k) => ({ value: v, itemStyle: { color: clusterColors[k] } }))
  });

  const option = {
    animation: false,
    backgroundColor: '#fff',
    title: {
      text: 'Empirical Cluster Analysis',
      left: 491, top: 6, textAlign: 'center',
      textStyle: { fontSize: 21, fontWeight: 'normal', color: '#222', fontFamily: font }
    },
    graphic: [
      {
        type: 'text', x: 601, y: 673,
        style: { text: 'Cross Shore Distance (m)', fontSize: 18.7, fontFamily: font, fill: '#222',
          textAlign: 'center', textVerticalAlign: 'middle', align: 'center', verticalAlign: 'middle' }
      },
      {
        type: 'text', x: 20, y: 342, rotation: Math.PI / 2,
        style: { text: 'Elevation (m AHD)', fontSize: 18.7, fontFamily: font, fill: '#222',
          textAlign: 'center', textVerticalAlign: 'middle', align: 'center', verticalAlign: 'middle' }
      }
    ],
    grid: grids,
    xAxis: xAxes,
    yAxis: yAxes,
    series: series
  };

  myChart.setOption(option);
</script>
</body>
</html>
